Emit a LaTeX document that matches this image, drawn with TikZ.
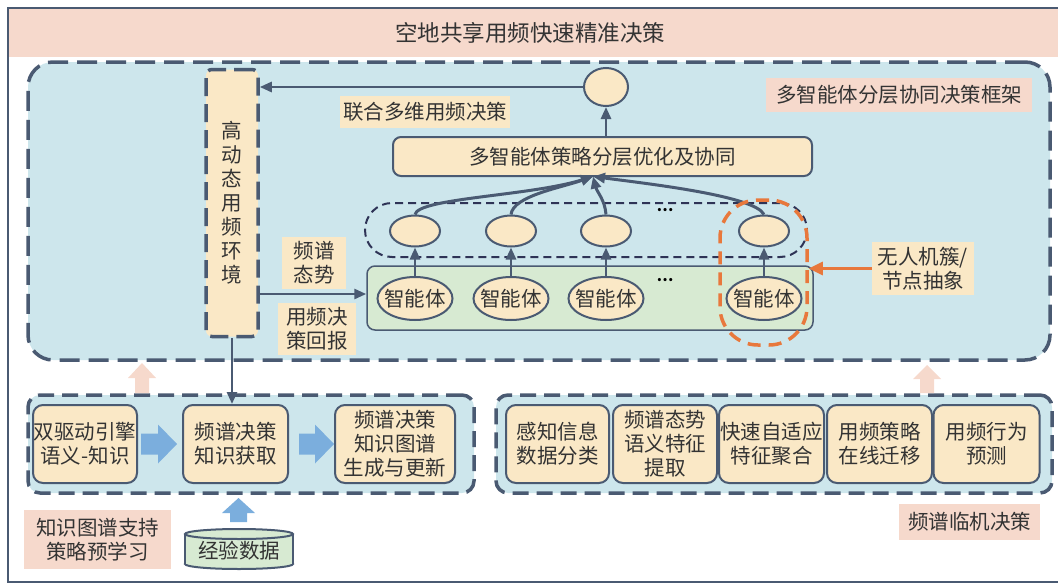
\documentclass[tikz,border=0pt]{standalone}
\usepackage{fontspec}
\setmainfont{Noto Sans CJK SC}
\usetikzlibrary{arrows.meta,shapes.geometric,calc}
\definecolor{slate}{HTML}{4A5A72}
\definecolor{navy}{HTML}{2E3356}
\definecolor{panelblue}{HTML}{CDE6EC}
\definecolor{beige}{HTML}{FAE8C6}
\definecolor{pinkc}{HTML}{F6D9CC}
\definecolor{greenc}{HTML}{D7EAD2}
\definecolor{bluearr}{HTML}{7BAEDD}
\definecolor{orangec}{HTML}{E8783C}
\definecolor{textc}{HTML}{333333}
\begin{document}
\begin{tikzpicture}[x=1pt,y=-1pt,
  txt/.style={font=\fontsize{20.5}{24}\selectfont, text=textc, align=center, inner sep=0pt},
  panel/.style={draw=slate, fill=panelblue, line width=3.5pt, dash pattern=on 20pt off 9pt, inner sep=0pt},
  lpanel/.style={panel, dash pattern=on 16pt off 8pt, rounded corners=12pt, minimum height=98pt},
  pinktag/.style={txt, fill=pinkc},
  beigetag/.style={txt, fill=beige},
  kbox/.style={txt, draw=slate, fill=beige, line width=2pt, rounded corners=10pt, minimum height=78pt},
  ovl/.style={ellipse, draw=slate, fill=beige, line width=2pt, inner sep=0pt},
  dotstxt/.style={txt, text=black, font=\fontsize{15}{15}\selectfont\bfseries},
  arr/.style={draw=slate, line width=2.7pt, -{Triangle[length=12pt,width=10pt]}},
  oarr/.style={draw=orangec, line width=3pt, -{Triangle[length=14pt,width=13pt]}},
]
\useasboundingbox (0,0) rectangle (1058,584);
% outer frame and title band
\fill[pinkc] (9,9) rectangle (1058,57);
\draw[slate, line width=2pt] (1058,8) -- (8,8) -- (8,582) -- (1058,582);
\node[txt, font=\fontsize{22.5}{26}\selectfont] (title) at (530,33) {空地共享用频快速精准决策};

% top panel
\node[panel, rounded corners=25pt, minimum width=1022pt, minimum height=298pt] (toppanel) at (539,211) {};
\node[pinktag, minimum width=266pt, minimum height=34pt] (fwtag) at (899,95) {多智能体分层协同决策框架};

\node[txt, draw=slate, fill=beige, line width=3.5pt, dash pattern=on 18pt off 8pt, rounded corners=6pt,
      minimum width=52pt, minimum height=267pt, font=\fontsize{20.5}{24}\selectfont] (env) at (232,203)
      {高\\动\\态\\用\\频\\环\\境};

\node[ovl, minimum width=44pt, minimum height=38pt] (topo) at (606,87) {};
\draw[arr] (topo.west) -- (topo.west -| env.east);
\node[beigetag, minimum width=170pt, minimum height=32pt] (joint) at (425,112) {联合多维用频决策};
\node[txt, draw=slate, fill=beige, line width=2pt, rounded corners=8pt, minimum width=419pt, minimum height=39pt] (opt) at (602.5,156.5) {多智能体策略分层优化及协同};
\draw[arr] (opt.north -| topo.south) -- (topo.south);

\node[draw=navy, line width=2pt, dash pattern=on 8pt off 5pt, rounded corners=27pt, minimum width=442pt, minimum height=54pt, inner sep=0pt] (grp) at (586,230) {};
\node[draw=slate, fill=greenc, line width=1.5pt, rounded corners=8pt, minimum width=446pt, minimum height=64pt, inner sep=0pt] (gbox) at (590,298) {};

\foreach \i/\x in {1/415,2/511,3/606,4/764}{
  \node[ovl, minimum width=50pt, minimum height=31pt] (u\i) at (\x,231) {};
  \node[ovl, minimum width=75pt, minimum height=43pt, label={[txt]center:智能体}] (a\i) at (\x,298.5) {};
  \draw[arr] (a\i.north) -- (u\i.south);
}
\node[dotstxt] (d1) at (665,210) {…};
\node[dotstxt] (d2) at (665,280) {…};

\coordinate (conv) at (593,176.5);
\draw[arr, line width=3pt] (u1.north) .. controls (418,198) and (530,196) .. (conv);
\draw[arr, line width=3pt] (u2.north) .. controls (513,196) and (560,188) .. (conv);
\draw[arr, line width=3pt] (u3.north) .. controls (605,200) and (597,192) .. (conv);
\draw[arr, line width=3pt] (u4.north) .. controls (755,196) and (650,184) .. (conv);

\node[draw=orangec, line width=3.5pt, dash pattern=on 13pt off 8pt, rounded corners=38pt, minimum width=87pt, minimum height=145pt, inner sep=0pt] (orng) at (763.5,272.5) {};
\node[beigetag, minimum width=102pt, minimum height=53pt] (uav) at (923,268.5) {无人机簇/\\节点抽象};
\draw[oarr] (uav.west) -- (uav.west -| orng.east);

\node[beigetag, minimum width=64pt, minimum height=52pt] (ss) at (314,263) {频谱\\态势};
\node[beigetag, minimum width=78pt, minimum height=52pt] (rw) at (317,329) {用频决\\策回报};
\coordinate (ya) at (0,294);
\draw[arr] (env.east |- ya) -- (gbox.west |- ya);

% lower left panel
\node[lpanel, minimum width=446pt] (lp) at (251,444) {};
\node[kbox, minimum width=104pt] (kb1) at (85,444) {双驱动引擎\\语义-知识};
\node[kbox, minimum width=105pt] (kb2) at (235.5,444) {频谱决策\\知识获取};
\node[kbox, minimum width=120pt] (kb3) at (395,444) {频谱决策\\知识图谱\\生成与更新};
\fill[bluearr] ($(kb1.east)+(3,-10.5)$) -- ++(17,0) -- ++(0,-9) -- ++(19,19.5) -- ++(-19,19.5) -- ++(0,-9) -- ++(-17,0) -- cycle;
\fill[bluearr] ($(kb2.east)+(10,-10.5)$) -- ++(16,0) -- ++(0,-9) -- ++(19,19.5) -- ++(-19,19.5) -- ++(0,-9) -- ++(-16,0) -- cycle;

% lower right panel
\node[lpanel, minimum width=556pt] (rp) at (774,444) {};
\node[kbox, minimum width=103pt] (r1) at (557.5,444) {感知信息\\数据分类};
\node[kbox, minimum width=104pt] (r2) at (665,444) {频谱态势\\语义特征\\提取};
\node[kbox, minimum width=105pt] (r3) at (771.5,444) {快速自适应\\特征聚合};
\node[kbox, minimum width=105pt] (r4) at (879.5,444) {用频策略\\在线迁移};
\node[kbox, minimum width=106pt] (r5) at (986.5,444) {用频行为\\预测};

% pink up arrows
\fill[pinkc] (135,393) -- (135,378) -- (128,378) -- (142,363) -- (156,378) -- (149,378) -- (149,393) -- cycle;
\fill[pinkc] (920,393) -- (920,379) -- (913,379) -- (927,365) -- (941,379) -- (934,379) -- (934,393) -- cycle;

\draw[arr] (env.south) -- (env.south |- kb2.north);

% bottom items
\node[pinktag, minimum width=147pt, minimum height=59pt] (kg) at (97.5,539.5) {知识图谱支持\\策略预学习};
\node[pinktag, minimum width=141pt, minimum height=36pt] (lt) at (969.5,522) {频谱临机决策};

\draw[slate, fill=greenc, line width=2pt] (239,564) ellipse [x radius=54, y radius=5];
\fill[greenc] (185,534) rectangle (293,564);
\draw[slate, line width=2pt] (185,534) -- (185,564);
\draw[slate, line width=2pt] (293,534) -- (293,564);
\draw[slate, fill=greenc, line width=2pt] (239,534) ellipse [x radius=54, y radius=5];
\node[txt] (db) at (239,551) {经验数据};

\fill[bluearr] (230,522) -- (230,513) -- (222,513) -- (238.5,498) -- (255,513) -- (247,513) -- (247,522) -- cycle;
\end{tikzpicture}
\end{document}
